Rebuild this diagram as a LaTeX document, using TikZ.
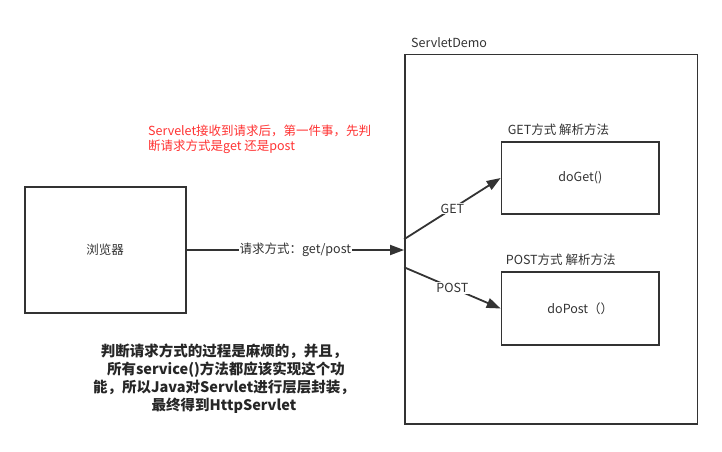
\documentclass[tikz,border=0pt]{standalone}
\usepackage{fontspec}
\setmainfont{Noto Sans CJK SC}
\usetikzlibrary{arrows.meta}
\definecolor{linegray}{HTML}{333333}
\definecolor{notered}{HTML}{FF3333}
\begin{document}
\begin{tikzpicture}[
    x=1pt, y=-1pt,
    box/.style={draw=linegray, rectangle, line width=1.8pt, inner sep=0pt, align=center, font=\fontsize{12.5}{15}\selectfont, text=black!80},
    lbl/.style={inner sep=1pt, font=\fontsize{12.5}{15}\selectfont, text=black!80},
    arrow/.style={-{Triangle[length=14pt, width=10pt]}, line width=1.8pt, draw=linegray}
]
    \useasboundingbox (0,0) rectangle (722,451);

    % Browser and servlet
    \node[box, minimum width=161pt, minimum height=126pt] (browser) at (105.2,250) {浏览器};
    \node[box, minimum width=292.5pt, minimum height=369.5pt] (servlet) at (551.25,239.25) {};
    \node[lbl, anchor=west] (servletlbl) at (410,43) {ServletDemo};

    % Methods
    \node[box, minimum width=157.5pt, minimum height=72pt] (doget) at (580.3,178) {doGet()};
    \node[box, minimum width=157.5pt, minimum height=73pt] (dopost) at (580.3,308.5) {doPost（）};
    \node[lbl, anchor=west] (getlbl) at ([xshift=6pt, yshift=11pt]doget.north west) {GET方式 解析方法};
    \node[lbl, anchor=west] (postlbl) at ([xshift=4pt, yshift=11pt]dopost.north west) {POST方式 解析方法};

    % Arrows
    \draw[arrow] (browser.east) -- (browser.east -| servlet.west)
        node[midway, fill=white, lbl] {请求方式：get/post};
    \draw[arrow] (servlet.west) -- (doget.west) node[midway, fill=white, lbl] {GET};
    \draw[arrow] ([yshift=-28pt]servlet.west) -- (dopost.west) node[midway, fill=white, lbl] {POST};

    % Notes
    \node[lbl, anchor=north west, align=left, text=notered] (rednote) at (147,124)
        {Servelet接收到请求后，第一件事，先判\\断请求方式是get 还是post};
    \node[lbl, align=center, text=black!85, font=\fontsize{14.5}{18}\selectfont\bfseries] (note) at (224,379)
        {判断请求方式的过程是麻烦的，并且，\\\hspace*{4pt}所有service()方法都应该实现这个功\\能，所以Java对Servlet进行层层封装，\\最终得到HttpServlet};
\end{tikzpicture}
\end{document}
